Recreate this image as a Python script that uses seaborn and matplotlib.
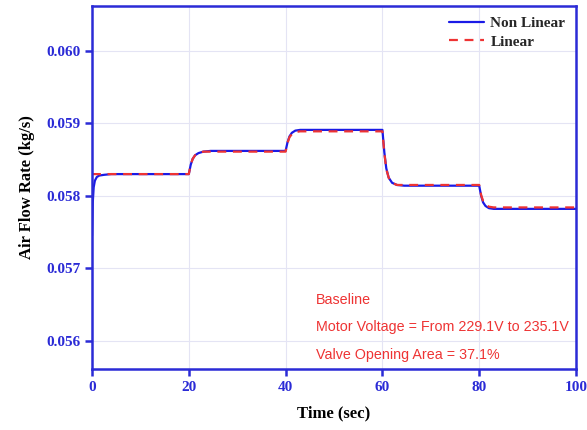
import matplotlib
matplotlib.use("Agg")
import matplotlib.pyplot as plt
import seaborn as sns
import pandas as pd

# Data
t_nonlinear = [0, 0.15, 0.35, 0.6, 1.0, 1.5, 2.5, 4, 20, 20.4, 20.8, 21.3, 22, 23, 24.5,
               40, 40.4, 40.8, 41.3, 42, 43, 44.5,
               60, 60.4, 60.8, 61.3, 62, 63, 64.5,
               80, 80.4, 80.8, 81.3, 82, 83, 84.5, 100]
y_nonlinear = [0.05745, 0.05790, 0.05812, 0.05821, 0.05826, 0.05828, 0.05829, 0.05830, 0.05830,
               0.05843, 0.05851, 0.05856, 0.05859, 0.05861, 0.05862,
               0.05862, 0.05874, 0.05882, 0.05887, 0.05890, 0.05891, 0.05891,
               0.05891, 0.05860, 0.05838, 0.05825, 0.05818, 0.05815, 0.05814,
               0.05814, 0.05800, 0.05791, 0.05786, 0.05783, 0.05782, 0.05782, 0.05782]
t_linear = [0, 20, 20.4, 20.8, 21.3, 22, 23, 24.5,
            40, 40.4, 40.8, 41.3, 42, 43, 44.5,
            60, 60.4, 60.8, 61.3, 62, 63, 64.5,
            80, 80.4, 80.8, 81.3, 82, 83, 84.5, 100]
y_linear = [0.05830, 0.05830, 0.05843, 0.05851, 0.05856, 0.05859, 0.05861, 0.05861,
            0.05861, 0.05873, 0.05881, 0.05885, 0.05888, 0.05889, 0.05889,
            0.05889, 0.05859, 0.05837, 0.05825, 0.05818, 0.05815, 0.05815,
            0.05815, 0.05801, 0.05793, 0.05788, 0.05785, 0.05784, 0.05784, 0.05784]
x_ticks = [0, 20, 40, 60, 80, 100]
y_ticks = [0.056, 0.057, 0.058, 0.059, 0.060]
notes = ["Baseline", "Motor Voltage = From 229.1V to 235.1V", "Valve Opening Area = 37.1%"]

df_nl = pd.DataFrame({"t": t_nonlinear, "y": y_nonlinear})
df_l = pd.DataFrame({"t": t_linear, "y": y_linear})

sns.set_theme(style="white")
plt.rcParams["font.family"] = ["Liberation Serif", "DejaVu Serif"]

blue = "#2b2bd6"
fig = plt.figure(figsize=(5.87, 4.30), dpi=100)
ax = fig.add_axes([92 / 587, 1 - 369 / 430, (576 - 92) / 587, (369 - 6) / 430])

sns.lineplot(data=df_nl, x="t", y="y", ax=ax, color="#1a1ae6", lw=1.6, label="Non Linear")
sns.lineplot(data=df_l, x="t", y="y", ax=ax, color="#ee3333", lw=1.6, ls=(0, (4, 3)), label="Linear")

ax.set_xlim(0, 100)
ax.set_ylim(0.05561, 0.06062)
ax.set_xticks(x_ticks)
ax.set_yticks(y_ticks)
ax.set_xticklabels([str(v) for v in x_ticks])
ax.set_yticklabels([f"{v:.3f}" for v in y_ticks])
ax.grid(True, color="#e4e4f4", lw=0.8)
for s in ax.spines.values():
    s.set_color(blue)
    s.set_linewidth(1.8)
ax.tick_params(axis="both", direction="out", length=5, width=1.8, color=blue,
               labelcolor=blue, labelsize=11, bottom=True, left=True)
for lab in ax.get_xticklabels() + ax.get_yticklabels():
    lab.set_fontweight("bold")
ax.set_xlabel("Time (sec)", fontsize=12, fontweight="bold", color="black", labelpad=8)
ax.set_ylabel("Air Flow Rate (kg/s)", fontsize=12, fontweight="bold", color="black", labelpad=8)

leg = ax.legend(loc="upper right", frameon=False, prop={"weight": "bold", "size": 11},
                handlelength=2.3, handletextpad=0.4, borderaxespad=0.3, labelspacing=0.3)

ys = [0.056566, 0.056193, 0.055807]
for txt, yv in zip(notes, ys):
    ax.text(46.3, yv, txt, color="#ee3333", fontsize=10.3,
            family=["Liberation Sans", "DejaVu Sans"], va="center")

fig.savefig("out.png", dpi=100)
